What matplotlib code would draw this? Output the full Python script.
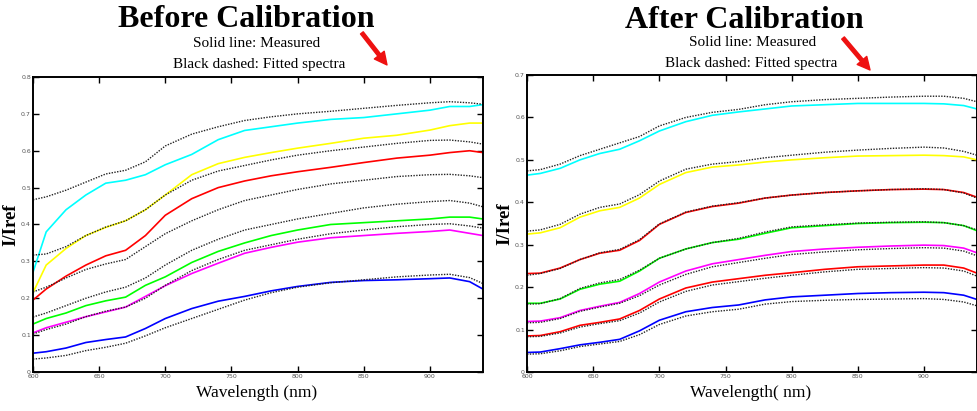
import matplotlib
matplotlib.use("Agg")
import matplotlib.pyplot as plt

wl = [600, 610, 625, 640, 655, 670, 685, 700, 720, 740, 760, 780, 800, 825, 850, 875, 900, 915, 930, 940]

# ---- Before calibration: measured
b_cyan = [0.27, 0.38, 0.44, 0.48, 0.512, 0.52, 0.535, 0.562, 0.59, 0.63, 0.655, 0.665, 0.675, 0.685, 0.69, 0.70, 0.71, 0.72, 0.72, 0.725]
b_yellow = [0.215, 0.29, 0.335, 0.37, 0.392, 0.41, 0.44, 0.48, 0.535, 0.565, 0.582, 0.595, 0.607, 0.62, 0.634, 0.642, 0.656, 0.668, 0.675, 0.675]
b_red = [0.195, 0.225, 0.26, 0.29, 0.315, 0.33, 0.37, 0.425, 0.47, 0.50, 0.518, 0.532, 0.543, 0.555, 0.568, 0.58, 0.588, 0.595, 0.60, 0.595]
b_green = [0.13, 0.145, 0.16, 0.18, 0.193, 0.203, 0.235, 0.258, 0.297, 0.327, 0.35, 0.37, 0.385, 0.40, 0.405, 0.41, 0.415, 0.42, 0.42, 0.415]
b_magenta = [0.106, 0.12, 0.135, 0.15, 0.163, 0.176, 0.205, 0.234, 0.267, 0.295, 0.322, 0.338, 0.352, 0.364, 0.37, 0.376, 0.381, 0.385, 0.376, 0.37]
b_blue = [0.051, 0.055, 0.065, 0.08, 0.088, 0.095, 0.118, 0.145, 0.172, 0.192, 0.205, 0.22, 0.232, 0.243, 0.248, 0.25, 0.253, 0.255, 0.245, 0.225]

# ---- Before calibration: fitted (black dotted)
b_fit1 = [0.467, 0.475, 0.493, 0.515, 0.537, 0.547, 0.57, 0.613, 0.645, 0.665, 0.682, 0.692, 0.70, 0.707, 0.715, 0.723, 0.73, 0.733, 0.73, 0.726]
b_fit2 = [0.317, 0.32, 0.34, 0.37, 0.393, 0.41, 0.44, 0.48, 0.52, 0.545, 0.56, 0.575, 0.588, 0.60, 0.61, 0.62, 0.628, 0.629, 0.624, 0.618]
b_fit3 = [0.217, 0.23, 0.255, 0.278, 0.293, 0.305, 0.34, 0.375, 0.41, 0.44, 0.465, 0.48, 0.495, 0.51, 0.52, 0.53, 0.535, 0.536, 0.532, 0.527]
b_fit4 = [0.149, 0.16, 0.18, 0.20, 0.217, 0.23, 0.255, 0.29, 0.33, 0.36, 0.385, 0.40, 0.415, 0.43, 0.445, 0.455, 0.462, 0.465, 0.458, 0.448]
b_fit5 = [0.103, 0.115, 0.13, 0.15, 0.165, 0.176, 0.2, 0.235, 0.275, 0.305, 0.33, 0.345, 0.36, 0.375, 0.385, 0.394, 0.40, 0.402, 0.396, 0.39]
b_fit6 = [0.035, 0.038, 0.045, 0.058, 0.067, 0.078, 0.098, 0.12, 0.145, 0.17, 0.195, 0.215, 0.23, 0.242, 0.25, 0.258, 0.263, 0.265, 0.256, 0.24]

# ---- After calibration: measured
a_cyan = [0.464, 0.468, 0.48, 0.50, 0.515, 0.525, 0.545, 0.568, 0.59, 0.605, 0.613, 0.62, 0.627, 0.63, 0.633, 0.633, 0.633, 0.632, 0.628, 0.62]
a_yellow = [0.325, 0.328, 0.34, 0.365, 0.38, 0.388, 0.41, 0.442, 0.47, 0.483, 0.488, 0.495, 0.50, 0.505, 0.509, 0.51, 0.511, 0.51, 0.507, 0.50]
a_red1 = [0.232, 0.233, 0.245, 0.265, 0.28, 0.287, 0.31, 0.348, 0.376, 0.39, 0.398, 0.41, 0.417, 0.423, 0.427, 0.43, 0.431, 0.43, 0.423, 0.412]
a_green = [0.162, 0.162, 0.172, 0.195, 0.207, 0.214, 0.238, 0.268, 0.29, 0.305, 0.313, 0.327, 0.34, 0.345, 0.35, 0.352, 0.353, 0.352, 0.345, 0.333]
a_magenta = [0.119, 0.12, 0.128, 0.145, 0.155, 0.164, 0.185, 0.212, 0.238, 0.255, 0.265, 0.275, 0.284, 0.29, 0.294, 0.297, 0.299, 0.298, 0.292, 0.281]
a_red2 = [0.085, 0.086, 0.095, 0.11, 0.117, 0.125, 0.145, 0.172, 0.198, 0.212, 0.22, 0.228, 0.234, 0.242, 0.248, 0.25, 0.252, 0.252, 0.245, 0.233]
a_blue = [0.046, 0.047, 0.055, 0.064, 0.07, 0.077, 0.097, 0.122, 0.142, 0.152, 0.158, 0.17, 0.177, 0.181, 0.185, 0.187, 0.188, 0.187, 0.181, 0.171]

# ---- After calibration: fitted
a_fit1 = [0.474, 0.477, 0.49, 0.51, 0.525, 0.54, 0.555, 0.58, 0.60, 0.612, 0.619, 0.63, 0.637, 0.642, 0.645, 0.648, 0.65, 0.65, 0.645, 0.637]
a_fit2 = [0.332, 0.335, 0.348, 0.372, 0.388, 0.396, 0.418, 0.45, 0.478, 0.49, 0.496, 0.505, 0.511, 0.518, 0.523, 0.527, 0.53, 0.528, 0.52, 0.511]
a_fit3 = [0.228, 0.232, 0.244, 0.265, 0.281, 0.289, 0.312, 0.349, 0.377, 0.391, 0.399, 0.41, 0.417, 0.423, 0.427, 0.43, 0.432, 0.43, 0.422, 0.41]
a_fit4 = [0.16, 0.161, 0.173, 0.197, 0.21, 0.218, 0.24, 0.268, 0.29, 0.305, 0.315, 0.33, 0.342, 0.347, 0.351, 0.353, 0.354, 0.352, 0.345, 0.335]
a_fit5 = [0.116, 0.117, 0.126, 0.143, 0.153, 0.162, 0.18, 0.205, 0.23, 0.248, 0.258, 0.268, 0.277, 0.283, 0.288, 0.291, 0.293, 0.292, 0.285, 0.274]
a_fit6 = [0.083, 0.084, 0.092, 0.106, 0.114, 0.121, 0.139, 0.165, 0.19, 0.205, 0.213, 0.221, 0.228, 0.236, 0.242, 0.244, 0.246, 0.245, 0.238, 0.226]
a_fit7 = [0.042, 0.043, 0.05, 0.06, 0.066, 0.072, 0.088, 0.112, 0.132, 0.142, 0.148, 0.16, 0.166, 0.169, 0.171, 0.172, 0.173, 0.171, 0.165, 0.156]

x_ticks = [600, 650, 700, 750, 800, 850, 900]
b_yticks = [0, 0.1, 0.2, 0.3, 0.4, 0.5, 0.6, 0.7, 0.8]
b_yticklabels = ["0", "0.1", "0.2", "0.3", "0.4", "0.5", "0.6", "0.7", "0.8"]
a_yticks = [0, 0.1, 0.2, 0.3, 0.4, 0.5, 0.6, 0.7]
a_yticklabels = ["0", "0.1", "0.2", "0.3", "0.4", "0.5", "0.6", "0.7"]

serif = "Liberation Serif"

fig = plt.figure(figsize=(9.78, 4.11), dpi=100)
ax1 = fig.add_axes([0.0337, 0.0949, 0.460, 0.7178])
ax2 = fig.add_axes([0.5389, 0.0949, 0.460, 0.7226])


def style_axes(ax, yticks, yticklabels, ymax, xlabel):
    ax.set_xlim(600, 940)
    ax.set_ylim(0, ymax)
    ax.set_xticks(x_ticks)
    ax.set_xticklabels([str(t) for t in x_ticks])
    ax.set_yticks(yticks)
    ax.set_yticklabels(yticklabels)
    ax.tick_params(direction="in", top=True, right=True, length=4, width=1,
                   labelsize=4.5, labelcolor="#555555", pad=1.5)
    for s in ax.spines.values():
        s.set_linewidth(1.4)
    ax.set_ylabel("I/Iref", fontfamily=serif, fontweight="bold", fontsize=13.5)
    ax.yaxis.set_label_coords(-0.03, 0.5)
    ax.set_xlabel(xlabel, fontfamily=serif, fontsize=12.5)
    ax.xaxis.set_label_coords(0.497, -0.045)


# before calibration
for vals, col in [(b_cyan, "#00ffff"), (b_yellow, "#ffff00"), (b_red, "#ff0000"),
                  (b_green, "#00ff00"), (b_magenta, "#ff00ff"), (b_blue, "#0000ff")]:
    ax1.plot(wl, vals, color=col, lw=1.2)
for vals in [b_fit1, b_fit2, b_fit3, b_fit4, b_fit5, b_fit6]:
    ax1.plot(wl, vals, color="#222222", lw=1.0, ls=(0, (1, 1)))
style_axes(ax1, b_yticks, b_yticklabels, 0.8, "Wavelength (nm)")

# after calibration
for vals, col in [(a_cyan, "#00ffff"), (a_yellow, "#ffff00"), (a_red1, "#ff0000"),
                  (a_green, "#00ff00"), (a_magenta, "#ff00ff"), (a_red2, "#ff0000"),
                  (a_blue, "#0000ff")]:
    ax2.plot(wl, vals, color=col, lw=1.2)
for vals in [a_fit1, a_fit2, a_fit3, a_fit4, a_fit5, a_fit6, a_fit7]:
    ax2.plot(wl, vals, color="#222222", lw=1.0, ls=(0, (1, 1)))
style_axes(ax2, a_yticks, a_yticklabels, 0.7, "Wavelength( nm)")

# titles and notes
fig.text(0.2515, 0.934, "Before Calibration", ha="center", va="baseline",
         fontfamily=serif, fontweight="bold", fontsize=23)
fig.text(0.2628, 0.886, "Solid line: Measured", ha="center", va="baseline",
         fontfamily=serif, fontsize=11)
fig.text(0.2648, 0.8345, "Black dashed: Fitted spectra", ha="center", va="baseline",
         fontfamily=serif, fontsize=11)

fig.text(0.7607, 0.932, "After Calibration", ha="center", va="baseline",
         fontfamily=serif, fontweight="bold", fontsize=23)
fig.text(0.769, 0.888, "Solid line: Measured", ha="center", va="baseline",
         fontfamily=serif, fontsize=11)
fig.text(0.768, 0.837, "Black dashed: Fitted spectra", ha="center", va="baseline",
         fontfamily=serif, fontsize=11)

# red arrows
arrow = dict(facecolor="#ee1111", edgecolor="#ee1111", width=2.5, headwidth=9, headlength=9)
fig.add_artist(plt.Annotation("", xy=(0.3957, 0.842), xytext=(0.370, 0.920),
                              xycoords="figure fraction", arrowprops=arrow))
fig.add_artist(plt.Annotation("", xy=(0.8896, 0.8297), xytext=(0.862, 0.9075),
                              xycoords="figure fraction", arrowprops=arrow))

fig.savefig("out.png", dpi=100)
